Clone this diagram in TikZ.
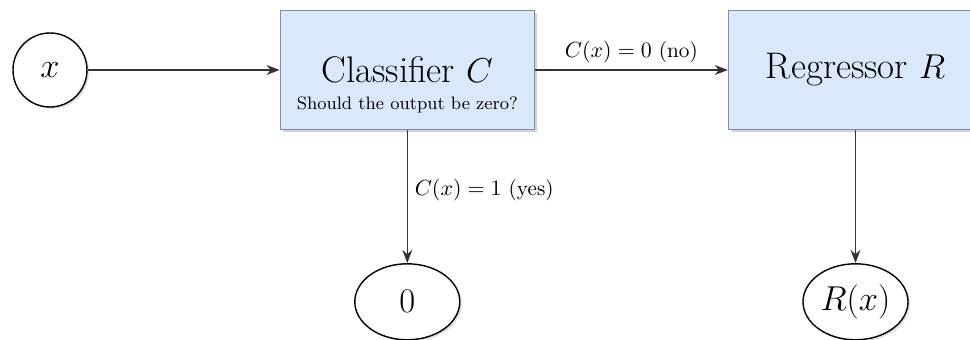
\documentclass[tikz,border=0pt]{standalone}
\usepackage{amsmath,amssymb}
\usepackage{xcolor}
\usepackage{tikz}
\usetikzlibrary{shapes.geometric, arrows.meta, positioning, shadows}
\definecolor{boxfill}{HTML}{DAE8FC}
\definecolor{boxline}{HTML}{7C8FA8}
\tikzstyle{arrow} = [thick, ->, >=Stealth]

\begin{document}
\begin{tikzpicture}[
        node distance=96pt,
        every node/.style={font=\fontsize{10.6}{13}\selectfont},
        model/.style={rectangle, draw=boxline, fill=boxfill, line width=0.6pt,
            minimum width=127pt, minimum height=59.5pt, text centered,
            inner sep=2pt, font=\fontsize{18.5}{21}\selectfont,
            drop shadow={shadow xshift=1.5pt, shadow yshift=-1.5pt,
                opacity=0.35}},
        inout/.style={circle, draw, fill=white, line width=0.7pt,
            minimum size=37pt, inner sep=0pt, font=\LARGE,
            drop shadow={shadow xshift=1pt, shadow yshift=-1pt,
                opacity=0.25}},
        outval/.style={ellipse, draw, fill=white, line width=0.7pt,
            minimum width=52.5pt, minimum height=38pt, inner sep=0pt,
            font=\LARGE,
            drop shadow={shadow xshift=1pt, shadow yshift=-1pt,
                opacity=0.25}},
        arr/.style={line width=0.8pt, draw=black!80, ->, >=Stealth}
    ]
    \useasboundingbox (-25pt,35pt) rectangle (460pt,-135pt);
    \node (inp)  [inout]                         {$x$};
    \node (cls)  [model,  right=of inp,
        label={[anchor=south, yshift=5pt, font=\small]south:
            Should the output be zero?}] {Classifier $C$};
    \node (reg)  [model,  right=96.5pt of cls]   {Regressor $R$};
    \node (zero) [outval, below=66.5pt of cls]   {$0$};
    \node (rx)   [outval, below=66.5pt of reg]   {$R(x)$};
    \draw [arr] (inp) -- (cls);
    \draw [arr] (cls) -- node[above]{$C(x)=0$ (no)} (reg);
    \draw [arr] (cls) -- node[right, pos=0.45]{$C(x)=1$ (yes)} (zero);
    \draw [arr] (reg) -- (rx);
\end{tikzpicture}
\end{document}
